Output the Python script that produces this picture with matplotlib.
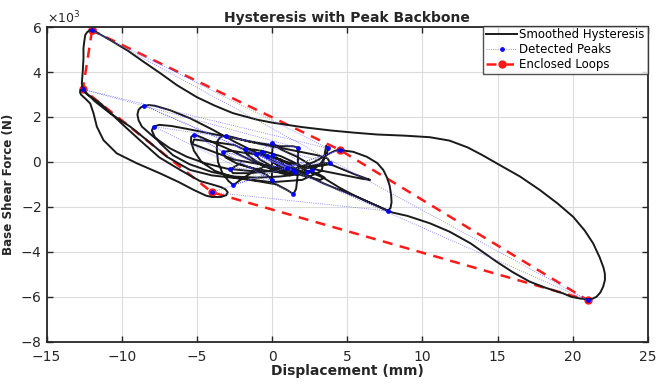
import numpy as np
import matplotlib
matplotlib.use("Agg")
import matplotlib.pyplot as plt

# smoothed hysteresis path: displacement (mm), base shear (x10^3 N)
hyst_x = [
    0.3, 0.7, 1.0, 0.8, 0.2, -0.3, -0.6, -0.68, -0.4, 0.3, 1.0, 1.42, 1.3, 0.6, -0.3, -0.9, -1.08, -0.8,
    0.0, 0.8, 1.6, 2.1, 2.3, 2.1, 1.4, 0.6, -0.4, -1.2, -1.8, -1.7, -1.1, -0.2, 0.7, 1.3, 1.53, 1.4,
    0.6, -0.6, -1.8, -2.7, -3.24, -3.1, -2.4, -1.2, 0.2, 1.5, 2.3, 2.64, 2.5, 1.6, 0.6, 0.05, 0.0, 0.0,
    -0.02, -0.3, -1.2, -2.2, -2.79, -2.6, -1.5, 0.0, 1.5, 2.8, 3.6, 3.86, 3.7, 3.0, 1.5, 0.0, -1.5, -2.6,
    -3.08, -3.4, -3.62, -3.68, -3.6, -3.3, -2.9, -2.57, -2.13, -1.3, -0.5, 0.5, 1.2, 0.6, -0.5, -1.8, -3.0,
    -4.2, -4.9, -5.19, -5.38, -5.4, -5.2, -4.7, -3.8, -2.5, -1.0, 0.3, 1.0, 1.42, 1.6, 1.7, 1.72, 1.75, 1.4,
    0.5, -1.0, -2.5, -4.0, -5.5, -6.7, -7.5, -7.89, -8.0, -7.8, -7.4, -6.6, -5.5, -4.0, -2.5, -1.0, 0.5, 1.8,
    2.6, 3.2, 3.6, 3.74, 3.6, 3.3, 2.0, 0.0, -2.0, -4.0, -5.45, -7.0, -8.33, -9.44, -10.77, -11.8, -12.4,
    -12.59, -12.75, -12.78, -12.72, -12.4, -12.1, -11.88, -11.66, -11.22, -10.33, -9.0, -7.45, -6.2, -5.2,
    -4.4, -4.0, -3.4, -3.05, -2.95, -3.1, -3.4, -4.0, -4.8, -6.0, -7.5, -8.8, -10.0, -11.4, -12.3, -12.6,
    -12.66, -12.6, -12.55, -12.55, -12.5, -12.43, -12.3, -12.12, -11.95, -11.5, -10.77, -9.6, -8.56, -7.4,
    -6.34, -5.0, -3.8, -2.6, -1.0, 0.0, 2.0, 3.9, 5.5, 7.0, 8.8, 10.5, 11.8, 13.0, 14.0, 14.94, 16.5,
    17.82, 19.0, 20.03, 20.8, 21.36, 21.8, 22.05, 22.14, 22.15, 22.03, 21.85, 21.59, 21.3, 21.03, 20.5,
    19.9, 19.37, 18.2, 17.15, 16.0, 14.94, 13.2, 11.8, 10.5, 9.0, 8.0, 6.8, 5.63, 4.5, 3.41, 2.0, 0.5,
    -1.0, -2.5, -4.0, -5.45, -6.78, -7.8, -8.2, -8.49, -8.75, -8.89, -8.96, -8.88, -8.66, -7.89, -6.78,
    -5.67, -4.5, -3.0, -1.5, 0.0, 1.5, 2.8, 3.74, 4.2, 4.52, 5.4, 6.3, 7.0, 7.4, 7.65, 7.82, 7.92, 7.95,
    7.88, 7.69, 6.8, 5.63, 4.5, 3.4, 2.0, 3.86, 5.5, 6.52, 6.0, 4.5, 3.0, 1.5, 0.0, -1.5, -2.5, -4.0,
    -5.19, -5.3, -4.5, -2.5, 0.0, 2.0, 3.0, 3.5, 3.2, 2.0, 0.8, 0.0,
]
hyst_y = [
    0.2, -0.05, -0.3, -0.35, -0.05, 0.26, 0.45, 0.45, 0.2, -0.1, -0.3, -0.36, -0.2, 0.1, 0.3, 0.4, 0.34, 0.1,
    -0.2, -0.45, -0.55, -0.5, -0.44, -0.25, 0.0, 0.25, 0.45, 0.55, 0.57, 0.35, 0.05, -0.25, -0.45, -0.5, -0.44, -0.2,
    0.1, 0.3, 0.4, 0.5, 0.45, 0.2, -0.05, -0.3, -0.45, -0.5, -0.45, -0.36, -0.1, 0.25, 0.55, 0.83, 0.3, -0.3,
    -0.81, -0.6, -0.3, -0.1, -0.33, -0.5, -0.5, -0.4, -0.3, -0.15, -0.05, -0.06, 0.15, 0.3, 0.5, 0.7, 0.9, 1.1,
    1.17, 1.12, 0.95, 0.6, 0.0, -0.5, -0.85, -1.03, -0.81, -0.45, -0.2, -0.3, -0.6, -0.5, -0.2, 0.2, 0.6,
    0.95, 1.15, 1.21, 1.12, 0.9, 0.5, 0.0, -0.4, -0.7, -0.85, -1.0, -1.25, -1.43, -1.2, -0.6, 0.0, 0.63, 0.7,
    0.7, 0.85, 1.05, 1.25, 1.45, 1.6, 1.65, 1.57, 1.4, 1.1, 0.8, 0.3, -0.1, -0.45, -0.65, -0.7, -0.65, -0.55,
    -0.4, -0.1, 0.3, 0.6, 0.72, -0.4, -0.8, -0.9, -0.75, -0.6, -0.36, 0.23, 0.97, 1.57, 2.16, 2.7, 3.1,
    3.23, 3.2, 3.1, 3.0, 2.8, 2.6, 2.16, 1.57, 0.97, 0.38, -0.06, -0.51, -0.9, -1.25,
    -1.5, -1.56, -1.56, -1.48, -1.35, -1.22, -1.12, -1.0, -0.85, -0.4, 0.2, 0.97, 1.7, 2.6, 3.0, 3.2,
    3.5, 4.0, 4.6, 5.05, 5.35, 5.65, 5.78, 5.86, 5.87, 5.7, 5.42, 4.95, 4.46, 3.93,
    3.42, 2.88, 2.5, 2.17, 1.88, 1.75, 1.55, 1.4, 1.3, 1.22, 1.17, 1.1, 0.95, 0.65, 0.3, -0.06, -0.65,
    -1.25, -1.85, -2.44, -3.05, -3.62, -4.25, -4.7, -4.96, -5.25, -5.55, -5.8, -6.0, -6.09, -6.11, -6.08,
    -6.0, -5.85, -5.6, -5.33, -4.9, -4.44, -3.62, -3.1, -2.73, -2.4, -2.25, -1.9, -1.55, -1.25, -0.95, -0.5, -0.05,
    0.4, 0.9, 1.45, 1.94, 2.3, 2.5, 2.53, 2.5, 2.42, 2.31, 2.1, 1.85, 1.57, 1.12, 0.6,
    0.23, -0.05, -0.3, -0.4, -0.4, -0.3, 0.0, 0.35, 0.5, 0.53, 0.45, 0.23, -0.05, -0.36, -0.7, -1.05, -1.45, -1.8,
    -2.05, -2.18, -1.9, -1.55, -1.15, -0.7, -0.3, -0.1, -0.55, -0.8, -0.75, -0.55, -0.35, -0.1, 0.2, 0.45, 0.75, 0.9,
    1.0, 0.8, 0.6, 0.1, -0.2, -0.4, -0.5, -0.7, -0.8, -0.6, -0.3, 0.0,
]

# detected peaks
peak_x = [0.05, -0.31, 0.98, -0.68, 1.42, -1.08, 2.30, -1.80, 1.53, -3.24, 2.64, -0.02, -2.79, 3.86,
          -3.08, -0.02, -5.19, 1.42, -7.89, 1.75, -12.59, 3.74, -11.98, 21.0, -8.49, 7.69, -4.0, 4.52, -2.57]
peak_y = [0.30, 0.26, -0.29, 0.45, -0.36, 0.34, -0.44, 0.57, -0.44, 0.45, -0.36, 0.83, -0.33, -0.06,
          1.17, -0.81, 1.21, -1.43, 1.57, 0.63, 3.23, 0.60, 5.85, -6.15, 2.50, -2.18, -1.35, 0.53, -1.03]

# enclosing polygon of the loops
loop_x = [-11.98, -12.59, -4.0, 21.0, 4.52, -11.98]
loop_y = [5.85, 3.23, -1.35, -6.15, 0.53, 5.85]

fig = plt.figure(figsize=(6.57, 3.87), dpi=100)
ax = fig.add_axes([0.071, 0.117, 0.915, 0.813])

ax.plot(hyst_x, np.array(hyst_y) * 1e3, color="#1a1a1a", lw=1.4,
        solid_joinstyle="round", label="Smoothed Hysteresis", zorder=3)
ax.plot(peak_x, np.array(peak_y) * 1e3, color="#6060ff", lw=0.6, ls=":",
        marker=".", ms=5, mfc="#0000ff", mec="#0000ff", alpha=0.9,
        label="Detected Peaks", zorder=4)
ax.plot(loop_x, np.array(loop_y) * 1e3, color="#ff1a1a", lw=1.8, ls=(0, (4, 3)),
        marker="o", ms=5, mfc="#ff1a1a", mec="#ff1a1a",
        label="Enclosed Loops", zorder=2)

ax.set_xlim(-15, 25)
ax.set_ylim(-8000, 6000)
ax.set_xticks(np.arange(-15, 26, 5))
ax.set_yticks(np.arange(-8000, 6001, 2000))
ax.ticklabel_format(axis="y", style="sci", scilimits=(3, 3), useMathText=True)
ax.yaxis.get_offset_text().set_fontsize(9)
ax.yaxis.get_offset_text().set_color("#262626")
ax.grid(True, color="#dcdcdc", lw=0.8)
ax.set_axisbelow(True)
ax.tick_params(direction="in", top=True, right=True, labelsize=10, colors="#262626",
               length=4, width=1)
ax.tick_params(axis="x", pad=6)
for sp in ax.spines.values():
    sp.set_linewidth(1.3)
    sp.set_color("#262626")

ax.set_title("Hysteresis with Peak Backbone", fontsize=10, fontweight="bold",
             color="#262626", pad=4)
ax.set_xlabel("Displacement (mm)", fontsize=10, fontweight="bold", color="#262626", labelpad=0)
ax.set_ylabel("Base Shear Force (N)", fontsize=8.6, fontweight="bold", color="#262626", labelpad=4)

leg = ax.legend(loc="upper right", fontsize=8.5, frameon=True, fancybox=False,
                edgecolor="#262626", borderaxespad=0, handlelength=2.6,
                labelspacing=0.15, borderpad=0.25, handletextpad=0.2,
                bbox_to_anchor=(1.0, 1.005))
leg.get_frame().set_linewidth(1.0)

fig.savefig("out.png", dpi=100)
